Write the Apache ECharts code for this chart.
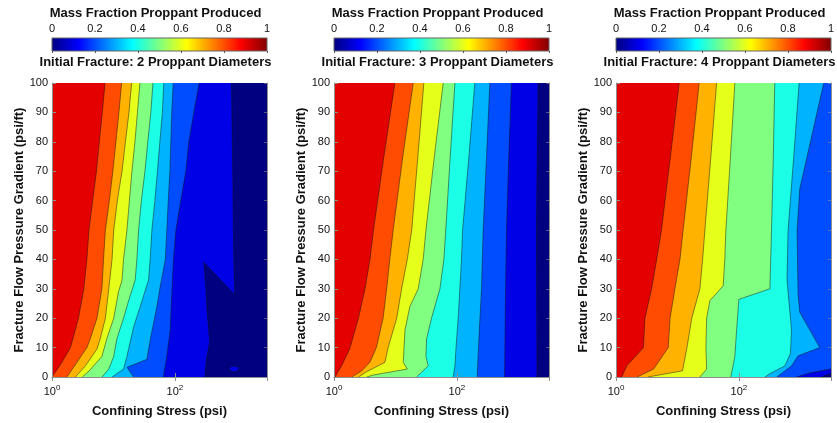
<!DOCTYPE html>
<html>
<head>
<meta charset="utf-8">
<script src="https://cdn.jsdelivr.net/npm/echarts@6/dist/echarts.min.js"></script>
<style>
  html, body { margin: 0; padding: 0; background: #ffffff; }
  #chart { width: 837px; height: 423px; }
</style>
</head>
<body>
<div id="chart"></div>
<script>
// Axis ranges: confining stress (psi, log scale) and fracture flow pressure gradient (psi/ft)
const stressMin = 1;
const stressMax = 3162.3;
const gradMin = 0;
const gradMax = 100;
const gradStep = 10;
const colorbarTicks = [0, 0.2, 0.4, 0.6, 0.8, 1];
const fractureSizes = ['2', '3', '4'];

// Contour lines of mass fraction produced, as [confining stress (psi), gradient (psi/ft)].
// Each line separates values above its level (left side) from values below it.

// Initial fracture: 2 proppant diameters
const f2_c90 = [[7.3,100],[6.6,90],[5.9,80],[5.3,70],[4.6,60],[4.0,50],[3.7,40],[3.3,30],[2.7,20],[2.0,10],[1.45,5],[1.13,1.6],[1.0,0]];
const f2_c80 = [[13.6,100],[12.3,90],[11.0,80],[9.8,70],[8.6,60],[7.4,50],[6.9,40],[6.5,30],[5.4,20],[4.2,13],[3.7,10],[2.55,5],[1.75,0]];
const f2_c70 = [[19.8,100],[17.9,90],[15.7,80],[13.8,70],[11.6,60],[10.1,50],[9.5,40],[8.4,30],[7.4,20],[6.1,13],[5.4,9.5],[3.5,3.8],[2.4,0]];
const f2_c60 = [[27,100],[24.6,90],[22.4,80],[20,70],[18.2,60],[16.6,50],[14.6,40],[13.8,33],[12.1,29],[10.1,20],[7.8,13],[6.5,7],[4.0,2],[3.1,0]];
const f2_c50 = [[44,100],[40.6,90],[36.3,80],[32.6,70],[28.5,60],[25.7,50],[24.1,40],[22.6,33],[17.7,26],[14.6,20],[11.4,13],[10.1,7],[8.4,2.7],[6.5,0]];
const f2_c40 = [[66,100],[62.7,90],[57,80],[52,70],[47.3,60],[42.3,50],[39.6,40],[37.3,33],[27.3,24],[21.3,17],[16.6,7],[14.6,2.7],[9.5,0]];
const f2_c30 = [[94,100],[89,90],[86,80],[83,70],[78,60],[74,50],[70,40],[58,31],[51,24],[40,13],[35,6],[16.6,3.3],[21.3,0]];
const f2_c20 = [[249,100],[204,90],[169,80],[151,70],[125,60],[104,50],[95,40],[89,28],[84,16],[74,7],[65,0]];
const f2_c10 = [[835,100],[877,70],[910,40],[945,28],[296,39],[319,31],[335,22],[370,12],[327,6],[308,0]];
const f2_c10spot = [[740,2.7],[850,3.7],[1080,3.5],[1120,2.4],[900,1.7]];

// Initial fracture: 3 proppant diameters
const f3_c90 = [[9.8,100],[6.5,75],[4.4,50],[3.85,40],[3.2,30],[2.5,20],[1.8,9.5],[1.33,3.8],[1.04,0]];
const f3_c80 = [[19.5,100],[13.2,75],[9.2,50],[8.1,40],[7.2,30],[6.3,20],[4.9,10],[3.85,5],[2.8,2],[1.94,0]];
const f3_c70 = [[29,100],[23.2,75],[18.4,50],[15.6,40],[12.6,30],[10.5,20],[7.6,10],[6.75,5],[3.4,1.8],[2.5,0]];
const f3_c60 = [[60,100],[43,75],[31.4,50],[28.3,40],[23.5,30],[17.2,24],[14.3,16],[13.4,5],[15.6,2.7],[4.4,0.7],[3.4,0]];
const f3_c50 = [[93,100],[78,75],[66,50],[61.5,40],[53,30],[38.7,20],[32.2,13],[31.4,7],[34.2,3.8],[26.7,1.6],[22.1,0]];
const f3_c40 = [[196,100],[157,75],[124,50],[119,40],[112,30],[105,20],[97,10],[93,3.8],[87,0]];
const f3_c30 = [[344,100],[304,75],[268,50],[252,30],[232,16],[214,0]];
const f3_c20 = [[775,100],[700,75],[643,50],[620,30],[598,0]];
const f3_c10 = [[2100,100],[1975,50],[2020,0]];

// Initial fracture: 4 proppant diameters
const f4_c90 = [[10.7,100],[7.7,75],[5.5,50],[4.6,40],[3.8,30],[2.96,20],[2.8,10],[1.5,3.8],[1.24,0]];
const f4_c80 = [[22.6,100],[16.9,75],[12.4,50],[11,40],[9.1,30],[7.6,20],[7.1,10],[4.1,2.7],[2.2,0]];
const f4_c70 = [[43.4,100],[35,75],[28,50],[25.7,40],[23.2,30],[17.1,20],[14.3,10],[12.1,2.1],[3.3,0]];
const f4_c60 = [[86,100],[73,75],[61.5,50],[59,40],[55.6,31],[33.8,26],[29.9,20],[29.1,10],[29.9,2.7],[23.2,0]];
const f4_c50 = [[384,100],[364,75],[340,50],[320,30],[100,26.4],[92,16],[86,7],[74,0]];
const f4_c40 = [[956,100],[783,75],[633,50],[608,33],[719,16],[692,8],[560,3.8],[300,0.8],[265,0]];
const f4_c30 = [[2408,100],[981,64],[887,50],[920,28],[981,22],[2074,10],[920,7.2],[719,3.8],[415,0]];
const f4_c20 = [[3162,2.7],[1430,1.4],[867,0]];
const f4_c10 = [[3162,1.2],[2200,0]];

// Contour sets per panel, painted from the lowest level upwards
const panelContours = [
  [[0.1, f2_c10], [0.1, f2_c10spot, true], [0.2, f2_c20], [0.3, f2_c30], [0.4, f2_c40],
   [0.5, f2_c50], [0.6, f2_c60], [0.7, f2_c70], [0.8, f2_c80], [0.9, f2_c90]],
  [[0.1, f3_c10], [0.2, f3_c20], [0.3, f3_c30], [0.4, f3_c40],
   [0.5, f3_c50], [0.6, f3_c60], [0.7, f3_c70], [0.8, f3_c80], [0.9, f3_c90]],
  [[0.1, f4_c10], [0.2, f4_c20], [0.3, f4_c30], [0.4, f4_c40],
   [0.5, f4_c50], [0.6, f4_c60], [0.7, f4_c70], [0.8, f4_c80], [0.9, f4_c90]]
].map(list => list.map(([level, path, closed]) => ({ level, path, closed: !!closed })));

// Layout
const plotLeft = [52, 334, 616];
const plotTop = 83;
const plotW = 215;
const plotH = 294;
const barTop = 38;
const barH = 13;

const FONT = '"Liberation Sans", Arial, Helvetica, sans-serif';
const TEXT = '#111111';
const FRAME = '#8f8f8f';

// Jet colormap
function jet(v) {
  const ch = t => Math.round(255 * Math.max(0, Math.min(1, 1.5 - Math.abs(4 * v - t))));
  return 'rgb(' + ch(3) + ',' + ch(2) + ',' + ch(1) + ')';
}
const jetStops = [
  { offset: 0, color: '#000080' },
  { offset: 0.125, color: '#0000ff' },
  { offset: 0.375, color: '#00ffff' },
  { offset: 0.625, color: '#ffff00' },
  { offset: 0.875, color: '#ff0000' },
  { offset: 1, color: '#800000' }
];

function decadeLabel(v) {
  const e = Math.log10(v);
  const r = Math.round(e);
  if (Math.abs(e - r) > 1e-6) return '';
  return '{b|10}{s|' + r + '}';
}

const grids = [];
const xAxes = [];
const yAxes = [];
const series = [];
const graphics = [];

fractureSizes.forEach((size, i) => {
  grids.push({
    left: plotLeft[i], top: plotTop, width: plotW, height: plotH,
    show: true, backgroundColor: jet(0), borderWidth: 0,
    containLabel: false, outerBoundsMode: 'none'
  });
});
fractureSizes.forEach((size, i) => {
  grids.push({
    left: plotLeft[i], top: barTop, width: plotW, height: barH,
    show: false, containLabel: false, outerBoundsMode: 'none'
  });
});

fractureSizes.forEach((size, i) => {
  const tick = { show: true, inside: true, length: 4, lineStyle: { color: FRAME, width: 1 } };
  const line = { show: true, lineStyle: { color: FRAME, width: 1 } };
  xAxes[2 * i] = {
    gridIndex: i, type: 'log', logBase: 100, min: stressMin, max: stressMax, position: 'bottom',
    axisLine: line, axisTick: tick, splitLine: { show: false }, z: 10,
    axisLabel: {
      formatter: decadeLabel, margin: 7, showMaxLabel: false,
      rich: {
        b: { fontSize: 11, color: TEXT, fontFamily: FONT },
        s: { fontSize: 8, color: TEXT, fontFamily: FONT, padding: [0, 0, 8, 0] }
      }
    },
    name: 'Confining Stress (psi)', nameLocation: 'middle', nameGap: 28,
    nameTextStyle: { fontSize: 13, fontWeight: 'bold', color: TEXT, fontFamily: FONT }
  };
  xAxes[2 * i + 1] = {
    gridIndex: i, type: 'log', logBase: 100, min: stressMin, max: stressMax, position: 'top',
    axisLine: line, axisTick: tick, axisLabel: { show: false }, splitLine: { show: false }, z: 10
  };
  yAxes[2 * i] = {
    gridIndex: i, type: 'value', min: gradMin, max: gradMax, interval: gradStep, position: 'left',
    axisLine: line, axisTick: tick, splitLine: { show: false }, z: 10,
    axisLabel: { fontSize: 11, color: TEXT, fontFamily: FONT, margin: 4 },
    name: 'Fracture Flow Pressure Gradient (psi/ft)', nameLocation: 'middle', nameGap: 23,
    nameTextStyle: { fontSize: 13, fontWeight: 'bold', color: TEXT, fontFamily: FONT }
  };
  yAxes[2 * i + 1] = {
    gridIndex: i, type: 'value', min: gradMin, max: gradMax, interval: gradStep, position: 'right',
    axisLine: line, axisTick: { show: true, inside: true, length: 3, lineStyle: { color: 'rgba(143,143,143,0.6)', width: 1 } },
    axisLabel: { show: false }, splitLine: { show: false }, z: 10
  };
  xAxes[6 + i] = {
    gridIndex: 3 + i, type: 'value', min: colorbarTicks[0], max: colorbarTicks[colorbarTicks.length - 1],
    interval: colorbarTicks[1] - colorbarTicks[0], position: 'top',
    axisLine: { show: false }, splitLine: { show: false }, z: 10,
    axisTick: { show: true, inside: true, length: 2, lineStyle: { color: '#555', width: 1 } },
    axisLabel: { fontSize: 11, color: TEXT, fontFamily: FONT, margin: 4 }
  };
  yAxes[6 + i] = { gridIndex: 3 + i, type: 'value', min: 0, max: 1, show: false };

  const contours = panelContours[i];
  const pathData = contours.map(c => c.path[0]);

  // Filled bands: each level covers everything on the high side of its contour
  series.push({
    type: 'custom', xAxisIndex: 2 * i, yAxisIndex: 2 * i, clip: true, z: 2, silent: true,
    data: pathData,
    renderItem: (params, api) => {
      const c = contours[params.dataIndex];
      const pts = c.path.map(p => api.coord(p));
      if (!c.closed) {
        pts.push(api.coord([stressMin, gradMin]), api.coord([stressMin, gradMax]));
        if (c.path[0][1] < gradMax) pts.push(api.coord([stressMax, gradMax]));
      }
      return { type: 'polygon', shape: { points: pts }, style: { fill: jet(c.level) } };
    }
  });
  // Contour lines on top of the bands
  series.push({
    type: 'custom', xAxisIndex: 2 * i, yAxisIndex: 2 * i, clip: true, z: 3, silent: true,
    data: pathData,
    renderItem: (params, api) => {
      const c = contours[params.dataIndex];
      const pts = c.path.map(p => api.coord(p));
      if (c.closed) pts.push(pts[0]);
      return {
        type: 'polyline', shape: { points: pts },
        style: { stroke: 'rgba(20,20,20,0.6)', lineWidth: 0.8, fill: null }
      };
    }
  });
  // Colorbar
  series.push({
    type: 'custom', xAxisIndex: 6 + i, yAxisIndex: 6 + i, z: 2, silent: true,
    data: [[0, 0]],
    renderItem: (params, api) => {
      const a = api.coord([0, 0]);
      const b = api.coord([1, 1]);
      return {
        type: 'rect',
        shape: { x: a[0], y: b[1], width: b[0] - a[0], height: a[1] - b[1] },
        style: {
          fill: { type: 'linear', x: 0, y: 0, x2: 1, y2: 0, colorStops: jetStops },
          stroke: '#666', lineWidth: 1
        }
      };
    }
  });

  const cx = plotLeft[i] + plotW / 2 - 4;
  graphics.push({
    type: 'text', x: cx, y: 13,
    style: { text: 'Mass Fraction Proppant Produced', font: 'bold 13px ' + FONT, fill: TEXT,
             textAlign: 'center', textVerticalAlign: 'middle' }
  });
  graphics.push({
    type: 'text', x: cx, y: 62,
    style: { text: 'Initial Fracture: ' + size + ' Proppant Diameters', font: 'bold 13px ' + FONT, fill: TEXT,
             textAlign: 'center', textVerticalAlign: 'middle' }
  });
});

const chart = echarts.init(document.getElementById('chart'), null, { renderer: 'canvas' });
chart.setOption({
  animation: false,
  backgroundColor: '#ffffff',
  textStyle: { fontFamily: FONT },
  grid: grids,
  xAxis: xAxes,
  yAxis: yAxes,
  series: series,
  graphic: graphics
});
</script>
</body>
</html>
